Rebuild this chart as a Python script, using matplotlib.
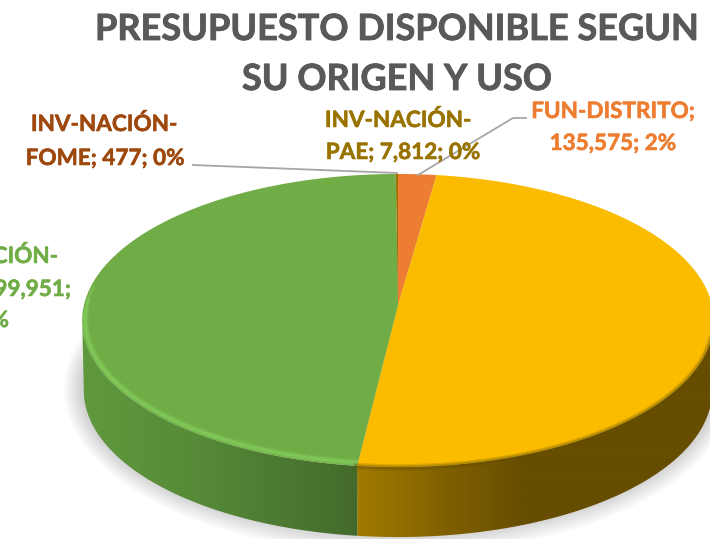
#!/usr/bin/env python3
"""Presupuesto disponible: 3D style pie, drawn by hand because matplotlib has no 3D pie."""

import numpy as np
import matplotlib
matplotlib.use("Agg")
import matplotlib.pyplot as plt
import matplotlib.patheffects as pe
from matplotlib.colors import to_rgb
from matplotlib.patches import Polygon

plt.rcParams["font.family"] = ["Lato", "DejaVu Sans"]

# Clockwise from 12 o'clock. Yellow and green values are estimates (labels cut off in the picture)
categories = ["FUN-DISTRITO", "FUN-NACIÓN", "INV-NACIÓN-SGP", "INV-NACIÓN-FOME", "INV-NACIÓN-PAE"]
values = [135575, 3105000, 2999951, 477, 7812]
colors = ["#ED7D31", "#FBBC00", "#70AD47", "#9E480E", "#997300"]

title_lines = ["PRESUPUESTO DISPONIBLE SEGUN", "SU ORIGEN Y USO"]

# Geometry of the disc in pixels
CX, CY = 398, 305
A, B, K = 144.9, 314.0, 0.1058
DEPTH = 70


def project(theta, grow=0.0):
    """theta in degrees clockwise from top -> pixel x, y of the top face, with perspective."""
    t = np.radians(theta)
    u, v = np.sin(t), np.cos(t)
    w = 1 + K * v
    return CX + (B + grow) * u / w, CY - (A + grow) * v / w


def gradient(stops):
    xs = np.arange(710)
    px = [s[0] for s in stops]
    rgb = np.array([to_rgb(s[1]) for s in stops])
    return np.dstack([np.interp(xs, px, rgb[:, i]) for i in range(3)])


def side_wall(ax, t0, t1, stops):
    th = np.linspace(t0, t1, 200)
    x, y = project(th)
    xb = CX + (x - CX) * 0.995
    pts = np.vstack([np.c_[x, y], np.c_[xb, y + DEPTH][::-1]])
    im = ax.imshow(gradient(stops), extent=(0, 710, 539, 0), aspect="auto", zorder=2,
                   interpolation="bilinear")
    im.set_clip_path(Polygon(pts, transform=ax.transData))


def main():
    fig = plt.figure(figsize=(7.1, 5.39), dpi=100)
    ax = fig.add_axes([0, 0, 1, 1])
    ax.axis("off")

    cum = np.cumsum([0] + values) / sum(values) * 360

    # soft shadow under the disc
    th = np.linspace(0, 360, 361)
    for g in range(2, 20, 2):
        x, y = project(th, grow=g)
        ax.fill(x, y + DEPTH - 3, color="#000000", alpha=0.02, lw=0, zorder=1)

    # front wall: split where the yellow slice ends
    split = cum[2]
    side_wall(ax, 96, split, [(357, "#A27B00"), (450, "#7E5F00"), (525, "#664D00"), (710, "#664D00")])
    side_wall(ax, split, 264, [(85, "#5F983D"), (200, "#568A38"), (300, "#4A7530"), (357, "#446A2B")])

    # top face
    for i, col in enumerate(colors):
        t = np.linspace(cum[i], cum[i + 1], max(3, int(cum[i + 1] - cum[i]) * 2))
        x, y = project(t)
        ax.fill(np.r_[CX, x], np.r_[CY, y], color=col, lw=0, zorder=3)

    # bevel on the front edge
    for end, w, a in [(268, 5, 0.25), (273, 3, 0.4), (278, 1.5, 0.5)]:
        t = np.linspace(split, end, 150)
        x, y = project(t, grow=-3)
        ax.plot(x, y, color="#86D05E", lw=w, alpha=a, solid_capstyle="butt", zorder=4)
    t = np.linspace(92, split, 150)
    x, y = project(t)
    for w, a in [(5, 0.2), (3, 0.3)]:
        ax.plot(x, y + 0.5, color="#665000", lw=w, alpha=a, zorder=4)

    # leader lines
    ax.plot([193, 397], [165, 173], color="#A6A6A6", lw=1.3, zorder=5)
    ax.plot([526, 513, 418], [118, 118, 175], color="#A6A6A6", lw=1.3, zorder=5)

    # title
    heavy = [pe.withStroke(linewidth=0.6, foreground="#595959")]
    for y, line in zip([40, 90], title_lines):
        ax.text(397, y, line, ha="center", va="baseline", fontsize=26, fontweight="bold",
                color="#595959", zorder=6, path_effects=heavy)

    # data labels
    lab = dict(ha="center", va="baseline", fontsize=16.2, fontweight="bold", zorder=6)
    rows = [
        (104, 131, "INV-NACIÓN-", 3),
        (105, 165, f"FOME; {values[3]}; 0%", 3),
        (398, 127, "INV-NACIÓN-", 4),
        (403, 159, f"PAE; {values[4]:,}; 0%", 4),
        (613, 118, "FUN-DISTRITO;", 0),
        (613, 150, f"{values[0]:,}; 2%", 0),
    ]
    for x, y, s, c in rows:
        ax.text(x, y, s, color=colors[c], path_effects=[pe.withStroke(linewidth=0.4, foreground=colors[c])], **lab)
    # this one runs off the left side of the picture, only the visible part is typed
    lab["ha"] = "right"
    green_fx = [pe.withStroke(linewidth=0.4, foreground=colors[2])]
    ax.text(58, 263, "CIÓN-", color=colors[2], path_effects=green_fx, **lab)
    ax.text(71, 296, "99,951;", color=colors[2], path_effects=green_fx, **lab)
    ax.text(9, 327, "%", color=colors[2], path_effects=green_fx, **lab)

    ax.set_xlim(0, 710)
    ax.set_ylim(539, 0)
    fig.savefig("out.png", dpi=100, facecolor="white")
    plt.close(fig)


if __name__ == "__main__":
    main()
